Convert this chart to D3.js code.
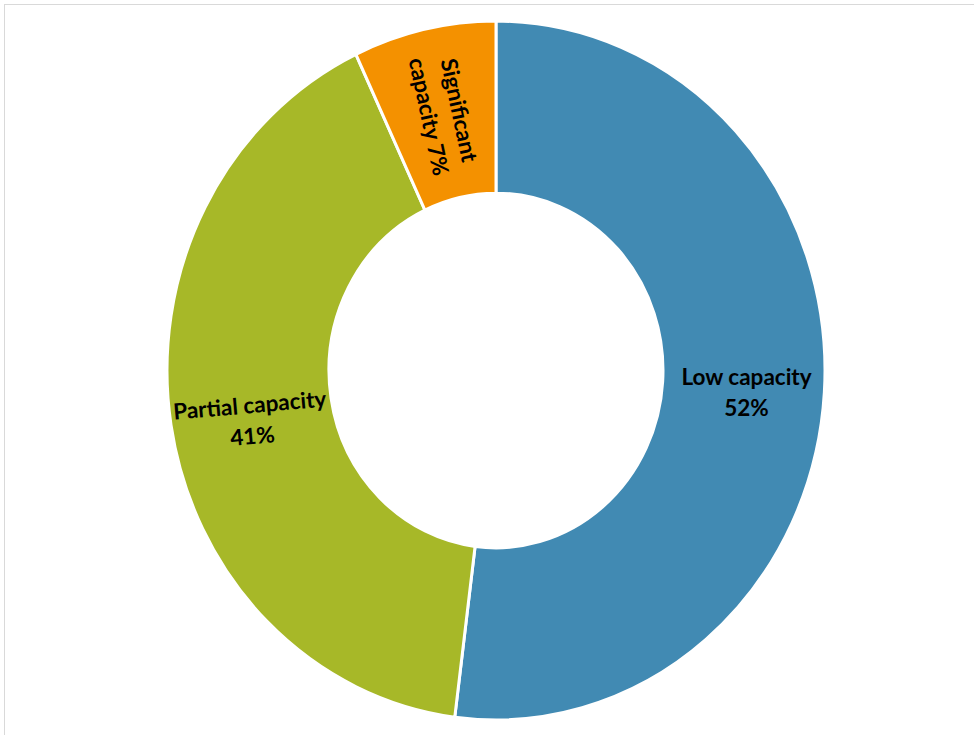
<!DOCTYPE html>
<html>
<head>
<meta charset="utf-8">
<script src="https://cdn.jsdelivr.net/npm/d3@7"></script>
<style>
html,body{margin:0;padding:0;background:#fff;}
svg{display:block;}
</style>
</head>
<body>
<svg id="chart" width="974" height="735"></svg>
<script>
const categories = ["Low capacity", "Partial capacity", "Significant capacity"];
const values = [52, 41, 7];
const labelLines = [["Low capacity", "52%"], ["Partial capacity", "41%"], ["Significant", "capacity 7%"]];
const colors = ["#418ab3", "#a7b828", "#f49100"];
const labelRotations = [0, -5, 78];
const labelShift = [[3, 6], [0, 9], [2, 0]];

const svg = d3.select("#chart");
svg.append("rect").attr("x", 4.5).attr("y", 4.5).attr("width", 1200).attr("height", 1200)
  .attr("fill", "none").attr("stroke", "#d9d9d9").attr("stroke-width", 1);

const cx = 496, cy = 370.5, outerR = 329, innerR = 167, yScale = 1.062;

const pie = d3.pie().sort(null).value(d => d).startAngle(0).endAngle(2 * Math.PI);
const arcs = pie(values);
const arc = d3.arc().innerRadius(innerR).outerRadius(outerR);

const g = svg.append("g").attr("transform", `translate(${cx},${cy}) scale(1,${yScale})`);
g.selectAll("path").data(arcs).join("path")
  .attr("d", arc)
  .attr("fill", (d, i) => colors[i])
  .attr("stroke", "#fff")
  .attr("stroke-width", 3)
  .attr("vector-effect", "non-scaling-stroke");

const lg = svg.append("g").attr("transform", `translate(${cx},${cy})`);
const lineH = 31;
arcs.forEach((d, i) => {
  const c = arc.centroid(d);
  const x = c[0] + labelShift[i][0], y = c[1] * yScale + labelShift[i][1];
  const t = lg.append("text")
    .attr("transform", `translate(${x},${y}) rotate(${labelRotations[i]})`)
    .attr("text-anchor", "middle")
    .attr("font-family", "Lato, 'Open Sans', sans-serif")
    .attr("font-weight", "bold")
    .attr("font-size", 22.5)
    .attr("fill", "#000");
  const lines = labelLines[i];
  lines.forEach((ln, j) => {
    t.append("tspan").attr("x", 0)
      .attr("y", (j - (lines.length - 1) / 2) * lineH)
      .attr("dy", "0.35em")
      .text(ln);
  });
});
</script>
</body>
</html>
